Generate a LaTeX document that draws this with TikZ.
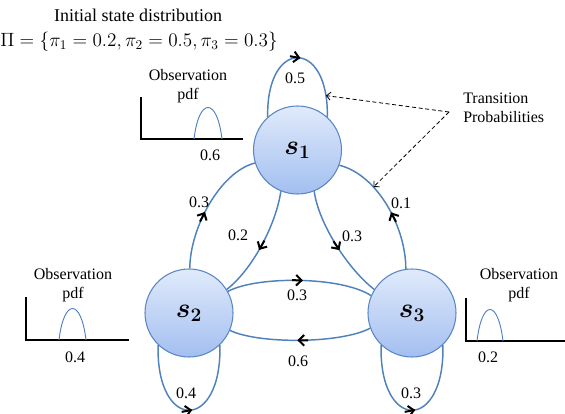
\documentclass[tikz,border=0pt]{standalone}
\usepackage{fontspec}
\setmainfont{Liberation Serif}
\usepackage{amsmath,bm}
\usetikzlibrary{arrows.meta,decorations.markings}

\definecolor{statetop}{HTML}{E0EAFB}
\definecolor{statebot}{HTML}{A3BFF0}
\definecolor{stateline}{HTML}{5A86C4}
\definecolor{edgeblue}{HTML}{4F81BD}

\tikzset{
  state/.style={circle, draw=stateline, line width=0.8pt, top color=statetop,
    bottom color=statebot, minimum size=66pt, inner sep=0pt,
    font=\fontsize{21}{24}\selectfont},
  trans/.style={draw=edgeblue, line width=1.1pt},
  midarrow/.style={postaction={decorate}, decoration={markings,
    mark=at position #1 with {%
      \draw[black, line width=1.5pt] (-8pt,0) -- (-0.5pt,0);
      \arrow[black]{Straight Barb[length=4pt,width=8pt,line width=1.5pt]}}}},
  lbl/.style={inner sep=0pt, font=\fontsize{12}{14}\selectfont},
  txt/.style={inner sep=0pt, align=center, font=\fontsize{12}{14.25}\selectfont},
  pointer/.style={black, densely dashed, line width=0.6pt,
    -{Straight Barb[length=3pt,width=6pt,line width=0.6pt]}},
  axisline/.style={black, line width=1.8pt, line join=miter},
  pdfcurve/.style={draw=edgeblue, line width=0.7pt}
}

\begin{document}
\begin{tikzpicture}[x=0.75pt, y=-0.75pt]
  \useasboundingbox (0,0) rectangle (565,414);

  % initial distribution
  \node[inner sep=0pt, font=\fontsize{13.5}{16}\selectfont] (title) at (138,15) {Initial state distribution};
  \node[inner sep=0pt, font=\fontsize{14.5}{17}\selectfont] (pi) at (139,42)
    {$\Pi=\{\pi_1=0.2,\pi_2=0.5,\pi_3=0.3\}$};

  % states
  \node[state] (s1) at (297.5,150) {$\bm{s}_{\bm{1}}$};
  \node[state] (s2) at (189,313) {$\bm{s}_{\bm{2}}$};
  \node[state] (s3) at (412,313) {$\bm{s}_{\bm{3}}$};

  % self loops
  \draw[trans, midarrow=0.52] (s1.132) .. controls (266,38) and (329,38) .. coordinate[pos=0.9] (loopr) (s1.48);
  \draw[trans, midarrow=0.52] (s2.226) .. controls (156,432) and (222,432) .. (s2.314);
  \draw[trans, midarrow=0.52] (s3.226) .. controls (379,432) and (445,432) .. (s3.314);

  % transitions between states
  \draw[trans, midarrow=0.45] (s2.89) .. controls (190,228) and (220,172) .. (s1.197);
  \draw[trans, midarrow=0.55] (s1.248) .. controls (276,225) and (252,270) .. (s2.32);
  \draw[trans, midarrow=0.55] (s1.292) .. controls (319,225) and (349,270) .. (s3.148);
  \draw[trans, midarrow=0.45] (s3.98) .. controls (406,228) and (378,175) .. coordinate[pos=0.67] (outr) (s1.340);
  \draw[trans, midarrow=0.52] (s2.29) .. controls (256,276) and (341,276) .. (s3.157);
  \draw[trans, midarrow=0.52] (s3.200) .. controls (340,344) and (258,344) .. (s2.337.5);

  % transition labels
  \node[lbl] (p11) at (295,78) {0.5};
  \node[lbl] (p22) at (186,393) {0.4};
  \node[lbl] (p33) at (411,393) {0.3};
  \node[lbl] (p21) at (199,202) {0.3};
  \node[lbl] (p12) at (238,235) {0.2};
  \node[lbl] (p13) at (352,236) {0.3};
  \node[lbl] (p31) at (401,203) {0.1};
  \node[lbl] (p23) at (297,295) {0.3};
  \node[lbl] (p32) at (298,361) {0.6};

  % callout
  \node[txt, align=left, anchor=north west] (tp) at (463,93) {Transition\\Probabilities};
  \coordinate (tpfoot) at (449,112);
  \draw[pointer] (tpfoot) -- (loopr);
  \draw[pointer] (tpfoot) -- (outr);

  % observation pdfs
  \node[txt] (obs1) at (188,86.5) {Observation\\pdf};
  \draw[axisline] (141,97) -- (141,139) -- (243,139);
  \draw[pdfcurve] (194,139) .. controls (199,97) and (217,97) .. (222,139);
  \node[lbl] (o1) at (210,155) {0.6};

  \node[txt] (obs2) at (73,285.5) {Observation\\pdf};
  \draw[axisline] (26,297) -- (26,340) -- (129,340);
  \draw[pdfcurve] (59,340) .. controls (64,298) and (81,298) .. (86,340);
  \node[lbl] (o2) at (75,357) {0.4};

  \node[txt] (obs3) at (519,285.5) {Observation\\pdf};
  \draw[axisline] (466,298) -- (466,341) -- (565,341);
  \draw[pdfcurve] (477,341) .. controls (482,299) and (498,299) .. (503,341);
  \node[lbl] (o3) at (488,357) {0.2};
\end{tikzpicture}
\end{document}
